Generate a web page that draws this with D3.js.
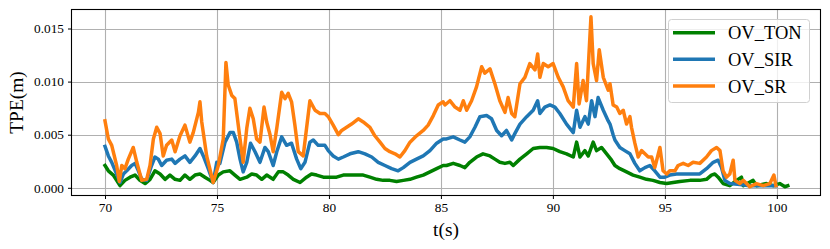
<!DOCTYPE html>
<html><head><meta charset="utf-8">
<script src="https://cdn.jsdelivr.net/npm/d3@7"></script>
<style>html,body{margin:0;padding:0;background:#fff;}svg{display:block;}</style>
</head><body>
<svg id="c" width="830" height="249"></svg>
<script>
// ---- data ----
const seriesNames = ["OV_TON", "OV_SIR", "OV_SR"];
const xTicks = [70, 75, 80, 85, 90, 95, 100];
const yTicks = [0.000, 0.005, 0.010, 0.015];

const tTON = [70.00,70.15,70.37,70.67,70.89,71.12,71.34,71.56,71.79,72.01,72.23,72.46,72.68,72.90,73.13,73.35,73.57,73.79,74.02,74.24,74.46,74.69,74.83,75.06,75.28,75.58,75.80,76.03,76.33,76.55,76.77,77.00,77.22,77.51,77.74,77.96,78.18,78.41,78.71,79.00,79.22,79.45,79.75,80.04,80.34,80.64,80.94,81.24,81.53,81.83,82.13,82.42,82.72,83.02,83.32,83.62,83.91,84.21,84.51,84.81,85.10,85.25,85.55,85.85,86.07,86.29,86.59,86.88,87.19,87.41,87.63,87.86,88.08,88.23,88.53,88.83,89.12,89.42,89.72,90.01,90.31,90.61,90.91,91.06,91.21,91.43,91.58,91.80,91.95,92.17,92.40,92.62,92.77,92.99,93.29,93.58,93.88,94.18,94.47,94.78,95.08,95.37,95.67,96.12,96.56,96.86,97.08,97.23,97.38,97.60,97.90,98.20,98.42,98.50,98.94,99.09,99.54,99.84,100.13,100.36,100.49];
const vTON = [0.0021,0.0016,0.0012,0.0002,0.0007,0.0010,0.0012,0.0007,0.0004,0.0008,0.0016,0.0013,0.0008,0.0012,0.0008,0.0007,0.0012,0.0008,0.0012,0.0013,0.0010,0.0007,0.0005,0.0012,0.0015,0.0016,0.0012,0.0008,0.0010,0.0013,0.0012,0.0008,0.0012,0.0008,0.0015,0.0015,0.0012,0.0008,0.0005,0.0010,0.0013,0.0012,0.0010,0.0010,0.0010,0.0012,0.0012,0.0012,0.0012,0.0010,0.0008,0.0007,0.0007,0.0006,0.0007,0.0008,0.0010,0.0012,0.0015,0.0018,0.0021,0.0021,0.0023,0.0021,0.0019,0.0024,0.0029,0.0032,0.0030,0.0027,0.0024,0.0023,0.0024,0.0021,0.0027,0.0032,0.0037,0.0038,0.0038,0.0037,0.0034,0.0032,0.0029,0.0043,0.0029,0.0035,0.0030,0.0043,0.0035,0.0038,0.0032,0.0026,0.0021,0.0018,0.0015,0.0012,0.0010,0.0008,0.0007,0.0005,0.0004,0.0005,0.0006,0.0007,0.0007,0.0008,0.0012,0.0013,0.0010,0.0004,0.0002,0.0007,0.0010,0.0002,0.0007,0.0002,0.0004,0.0002,0.0004,0.0001,0.0002];

const tSIR = [70.00,70.15,70.30,70.52,70.67,70.82,70.97,71.19,71.34,71.49,71.64,71.86,72.08,72.23,72.38,72.53,72.75,72.98,73.13,73.35,73.57,73.79,74.02,74.24,74.39,74.61,74.83,74.99,75.13,75.36,75.58,75.73,75.88,76.03,76.17,76.33,76.50,76.70,76.92,77.14,77.29,77.51,77.67,77.89,78.11,78.33,78.56,78.74,78.93,79.15,79.30,79.52,79.82,79.97,80.19,80.42,80.64,80.94,81.31,81.61,81.91,82.20,82.50,82.80,83.09,83.32,83.62,83.91,84.21,84.51,84.81,85.10,85.25,85.55,85.85,86.07,86.29,86.52,86.74,87.04,87.26,87.49,87.71,87.93,88.16,88.30,88.53,88.83,89.12,89.32,89.42,89.64,89.87,90.09,90.31,90.61,90.91,91.06,91.21,91.43,91.58,91.73,91.88,92.02,92.25,92.47,92.55,92.69,92.77,92.99,93.21,93.44,93.66,93.88,94.11,94.33,94.55,94.78,95.00,95.22,95.52,95.82,96.19,96.56,96.86,97.16,97.38,97.53,97.68,97.90,98.35,98.79,99.24,99.69,99.96];
const vSIR = [0.0039,0.0030,0.0024,0.0013,0.0005,0.0013,0.0016,0.0021,0.0023,0.0016,0.0008,0.0007,0.0021,0.0029,0.0027,0.0021,0.0026,0.0027,0.0023,0.0027,0.0030,0.0024,0.0030,0.0037,0.0030,0.0018,0.0005,0.0024,0.0023,0.0043,0.0052,0.0052,0.0043,0.0027,0.0015,0.0024,0.0042,0.0034,0.0024,0.0038,0.0034,0.0021,0.0034,0.0048,0.0040,0.0042,0.0027,0.0018,0.0024,0.0043,0.0045,0.0040,0.0040,0.0035,0.0030,0.0027,0.0029,0.0032,0.0034,0.0032,0.0029,0.0024,0.0021,0.0018,0.0016,0.0019,0.0024,0.0027,0.0030,0.0035,0.0042,0.0046,0.0046,0.0048,0.0045,0.0043,0.0048,0.0057,0.0067,0.0068,0.0065,0.0054,0.0049,0.0054,0.0045,0.0051,0.0060,0.0067,0.0073,0.0082,0.0070,0.0076,0.0078,0.0076,0.0070,0.0060,0.0052,0.0073,0.0057,0.0067,0.0060,0.0082,0.0067,0.0085,0.0073,0.0063,0.0060,0.0050,0.0045,0.0038,0.0035,0.0032,0.0023,0.0016,0.0019,0.0021,0.0016,0.0010,0.0010,0.0012,0.0013,0.0013,0.0013,0.0013,0.0018,0.0024,0.0026,0.0019,0.0007,0.0004,0.0003,0.0002,0.0002,0.0002,0.0002];

const tSR = [70.00,70.15,70.30,70.52,70.64,70.75,70.89,71.04,71.26,71.42,71.64,71.86,72.01,72.16,72.31,72.46,72.60,72.75,72.98,73.13,73.35,73.57,73.79,73.94,74.17,74.24,74.32,74.54,74.83,75.06,75.28,75.40,75.50,75.66,75.80,76.03,76.17,76.33,76.47,76.62,76.77,76.92,77.10,77.22,77.37,77.51,77.67,77.89,78.04,78.18,78.33,78.48,78.63,78.85,79.00,79.15,79.38,79.60,79.82,79.97,80.19,80.42,80.57,80.79,81.01,81.31,81.53,81.83,82.05,82.28,82.50,82.72,82.95,83.17,83.39,83.62,83.91,84.21,84.43,84.66,84.88,85.10,85.18,85.40,85.63,85.85,86.00,86.15,86.37,86.59,86.82,86.96,87.19,87.41,87.63,87.86,88.00,88.16,88.30,88.53,88.75,88.97,89.20,89.32,89.42,89.57,89.79,90.01,90.24,90.46,90.68,90.91,91.06,91.17,91.35,91.50,91.70,91.80,91.95,92.07,92.25,92.47,92.55,92.69,92.85,92.99,93.14,93.29,93.44,93.51,93.66,93.81,93.96,94.11,94.26,94.41,94.55,94.78,94.92,95.08,95.22,95.45,95.59,95.82,96.04,96.26,96.56,96.86,97.08,97.31,97.46,97.60,97.75,97.90,98.05,98.13,98.35,98.50,98.65,98.79,99.09,99.39,99.69,99.87,99.96];
const vSR = [0.0063,0.0046,0.0040,0.0021,0.0006,0.0021,0.0018,0.0027,0.0038,0.0024,0.0007,0.0008,0.0021,0.0046,0.0057,0.0051,0.0030,0.0040,0.0045,0.0034,0.0049,0.0059,0.0043,0.0052,0.0071,0.0081,0.0062,0.0030,0.0005,0.0021,0.0046,0.0118,0.0097,0.0087,0.0084,0.0046,0.0024,0.0056,0.0075,0.0065,0.0046,0.0043,0.0076,0.0062,0.0050,0.0034,0.0056,0.0090,0.0084,0.0089,0.0081,0.0059,0.0034,0.0030,0.0056,0.0082,0.0073,0.0070,0.0070,0.0067,0.0059,0.0050,0.0054,0.0057,0.0060,0.0065,0.0062,0.0057,0.0049,0.0043,0.0037,0.0034,0.0032,0.0029,0.0035,0.0043,0.0049,0.0054,0.0059,0.0068,0.0078,0.0081,0.0078,0.0082,0.0076,0.0073,0.0082,0.0073,0.0082,0.0095,0.0114,0.0108,0.0112,0.0098,0.0082,0.0071,0.0085,0.0070,0.0067,0.0098,0.0104,0.0117,0.0111,0.0126,0.0104,0.0117,0.0114,0.0117,0.0104,0.0095,0.0082,0.0076,0.0117,0.0079,0.0101,0.0082,0.0161,0.0117,0.0101,0.0130,0.0104,0.0092,0.0098,0.0078,0.0076,0.0070,0.0073,0.0060,0.0067,0.0057,0.0042,0.0029,0.0035,0.0032,0.0029,0.0029,0.0019,0.0038,0.0016,0.0013,0.0016,0.0016,0.0021,0.0023,0.0021,0.0024,0.0023,0.0029,0.0035,0.0038,0.0035,0.0016,0.0010,0.0013,0.0026,0.0007,0.0004,0.0007,0.0004,0.0001,0.0004,0.0002,0.0004,0.0012,0.0002];

const colors = ["#008000", "#1f77b4", "#ff7f0e"];

// ---- chart ----
const svg = d3.select("#c");
const L = 71.5, R = 820.5, T = 9.5, B = 195.5;
const x = d3.scaleLinear().domain([68.504, 101.95]).range([L, R]);
const y = d3.scaleLinear().domain([-0.000725, 0.01679]).range([B, T]);
const serifFont = "'Liberation Serif','Times New Roman',serif";

// grid
const g = svg.append("g");
g.selectAll("line.gx").data(xTicks).join("line")
  .attr("x1", d => Math.round(x(d)) + 0.5).attr("x2", d => Math.round(x(d)) + 0.5)
  .attr("y1", T).attr("y2", B).attr("stroke", "#b0b0b0").attr("stroke-width", 1.1);
g.selectAll("line.gy").data(yTicks).join("line")
  .attr("y1", d => Math.round(y(d)) + 0.5).attr("y2", d => Math.round(y(d)) + 0.5)
  .attr("x1", L).attr("x2", R).attr("stroke", "#b0b0b0").attr("stroke-width", 1.1);

// lines
const ts = [tTON, tSIR, tSR], vs = [vTON, vSIR, vSR];
const line = d3.line().x(d => x(d[0])).y(d => y(d[1]));
const clip = svg.append("clipPath").attr("id", "pc").append("rect")
  .attr("x", L).attr("y", T).attr("width", R - L).attr("height", B - T);
ts.forEach((tt, i) => {
  const pts = tt.map((t, k) => [t, vs[i][k]]);
  svg.append("path").attr("d", line(pts)).attr("fill", "none")
    .attr("stroke", colors[i]).attr("stroke-width", 3.5)
    .attr("stroke-linejoin", "round").attr("stroke-linecap", "square")
    .attr("clip-path", "url(#pc)");
});

// axes
const xa = svg.append("g").attr("transform", `translate(0,${B})`)
  .call(d3.axisBottom(x).tickValues(xTicks).tickSize(3.5).tickPadding(4).tickFormat(d3.format("d")));
const ya = svg.append("g").attr("transform", `translate(${L},0)`)
  .call(d3.axisLeft(y).tickValues(yTicks).tickSize(3.5).tickPadding(4).tickFormat(d3.format(".3f")));
[xa, ya].forEach(a => {
  a.select(".domain").remove();
  a.selectAll(".tick line").attr("stroke", "#000").attr("stroke-width", 1);
  a.selectAll(".tick text").attr("font-family", serifFont).attr("font-size", 13.3).attr("fill", "#000");
});

// frame
svg.append("rect").attr("x", L).attr("y", T).attr("width", R - L).attr("height", B - T)
  .attr("fill", "none").attr("stroke", "#000").attr("stroke-width", 1.1);

// axis labels
svg.append("text").attr("x", (L + R) / 2).attr("y", 236).attr("text-anchor", "middle")
  .attr("font-family", serifFont).attr("font-size", 19.4).text("t(s)");
svg.append("text").attr("transform", `translate(23,${(T + B) / 2}) rotate(-90)`)
  .attr("text-anchor", "middle").attr("font-family", serifFont).attr("font-size", 19.4).text("TPE(m)");

// legend
const lg = svg.append("g");
lg.append("rect").attr("x", 668.5).attr("y", 19.5).attr("width", 141).attr("height", 83)
  .attr("rx", 3).attr("fill", "#fff").attr("fill-opacity", 0.8).attr("stroke", "#d0d0d0").attr("stroke-width", 1);
seriesNames.forEach((n, i) => {
  const yy = 32.7 + i * 26.6;
  lg.append("line").attr("x1", 673).attr("x2", 715).attr("y1", yy).attr("y2", yy)
    .attr("stroke", colors[i]).attr("stroke-width", 3.5);
  lg.append("text").attr("x", 728).attr("y", yy + 6.6).attr("font-family", serifFont)
    .attr("font-size", 18.5).attr("fill", "#000").text(n);
});
</script>
</body></html>
